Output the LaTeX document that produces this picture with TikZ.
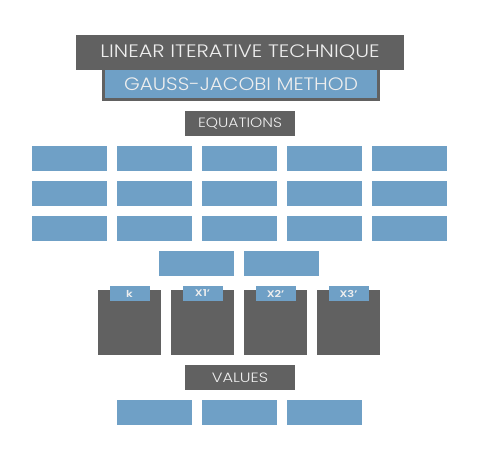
\documentclass[tikz,border=0pt]{standalone}
\usepackage{fontspec}
\usepackage{graphicx}
\setmainfont{Poppins}[UprightFont=* Light,BoldFont=* SemiBold]
\definecolor{panelgray}{RGB}{97,97,97}
\definecolor{cellblue}{RGB}{111,160,198}
\definecolor{lighttext}{RGB}{238,238,238}
% wide lettering: stretch the text horizontally
\newcommand{\widetext}[2]{\scalebox{#1}[1]{#2}}
\begin{document}
\begin{tikzpicture}[x=1pt,y=-1pt,
  box/.style={rectangle,inner sep=0pt,outer sep=0pt,text=lighttext},
  cell/.style={box,fill=cellblue,minimum width=75pt,minimum height=25pt},
  banner/.style={box,fill=panelgray,minimum width=110pt,minimum height=25pt,font=\fontsize{13.5}{14}\selectfont},
  slot/.style={box,fill=panelgray,minimum width=63pt,minimum height=65pt},
  tag/.style={box,fill=cellblue,minimum width=40pt,minimum height=15pt,font=\fontsize{9.5}{10}\selectfont\bfseries}]
\useasboundingbox (0,0) rectangle (480,460);

% heading
\node[box,fill=panelgray,minimum width=328pt,minimum height=35pt,
      font=\fontsize{18}{20}\selectfont] (title) at (240,52.5) {\widetext{1.16}{LINEAR ITERATIVE TECHNIQUE}};
\node[box,fill=cellblue,draw=panelgray,line width=3pt,minimum width=275pt,minimum height=31pt,
      font=\fontsize{18}{20}\selectfont] (method) at (241,84) {\widetext{1.12}{GAUSS-JACOBI METHOD}};

% equations block
\node[banner] (eqs) at (240,123.5) {\widetext{1.15}{EQUATIONS}};
\foreach \r/\y in {1/158.5,2/193.5,3/228.5}{
  \foreach \c/\x in {1/69.5,2/154.5,3/239.5,4/324.5,5/409.5}{
    \node[cell] (e\r\c) at (\x,\y) {};
  }
}
\node[cell] (e41) at (196.5,263.5) {};
\node[cell] (e42) at (281.5,263.5) {};

% iteration columns
\foreach \i/\x/\t in {0/129.5/k,1/202.5/X1',2/275.5/X2',3/348.5/X3'}{
  \node[slot] (s\i) at (\x,322.5) {};
  \node[tag] (t\i) at (\x,293.5) {\widetext{1.2}{\t}};
}

% values block
\node[banner] (vals) at (240,377.5) {\widetext{1.2}{VALUES}};
\node[cell] (v1) at (154.5,412.5) {};
\node[cell] (v2) at (239.5,412.5) {};
\node[cell] (v3) at (324.5,412.5) {};
\end{tikzpicture}
\end{document}
